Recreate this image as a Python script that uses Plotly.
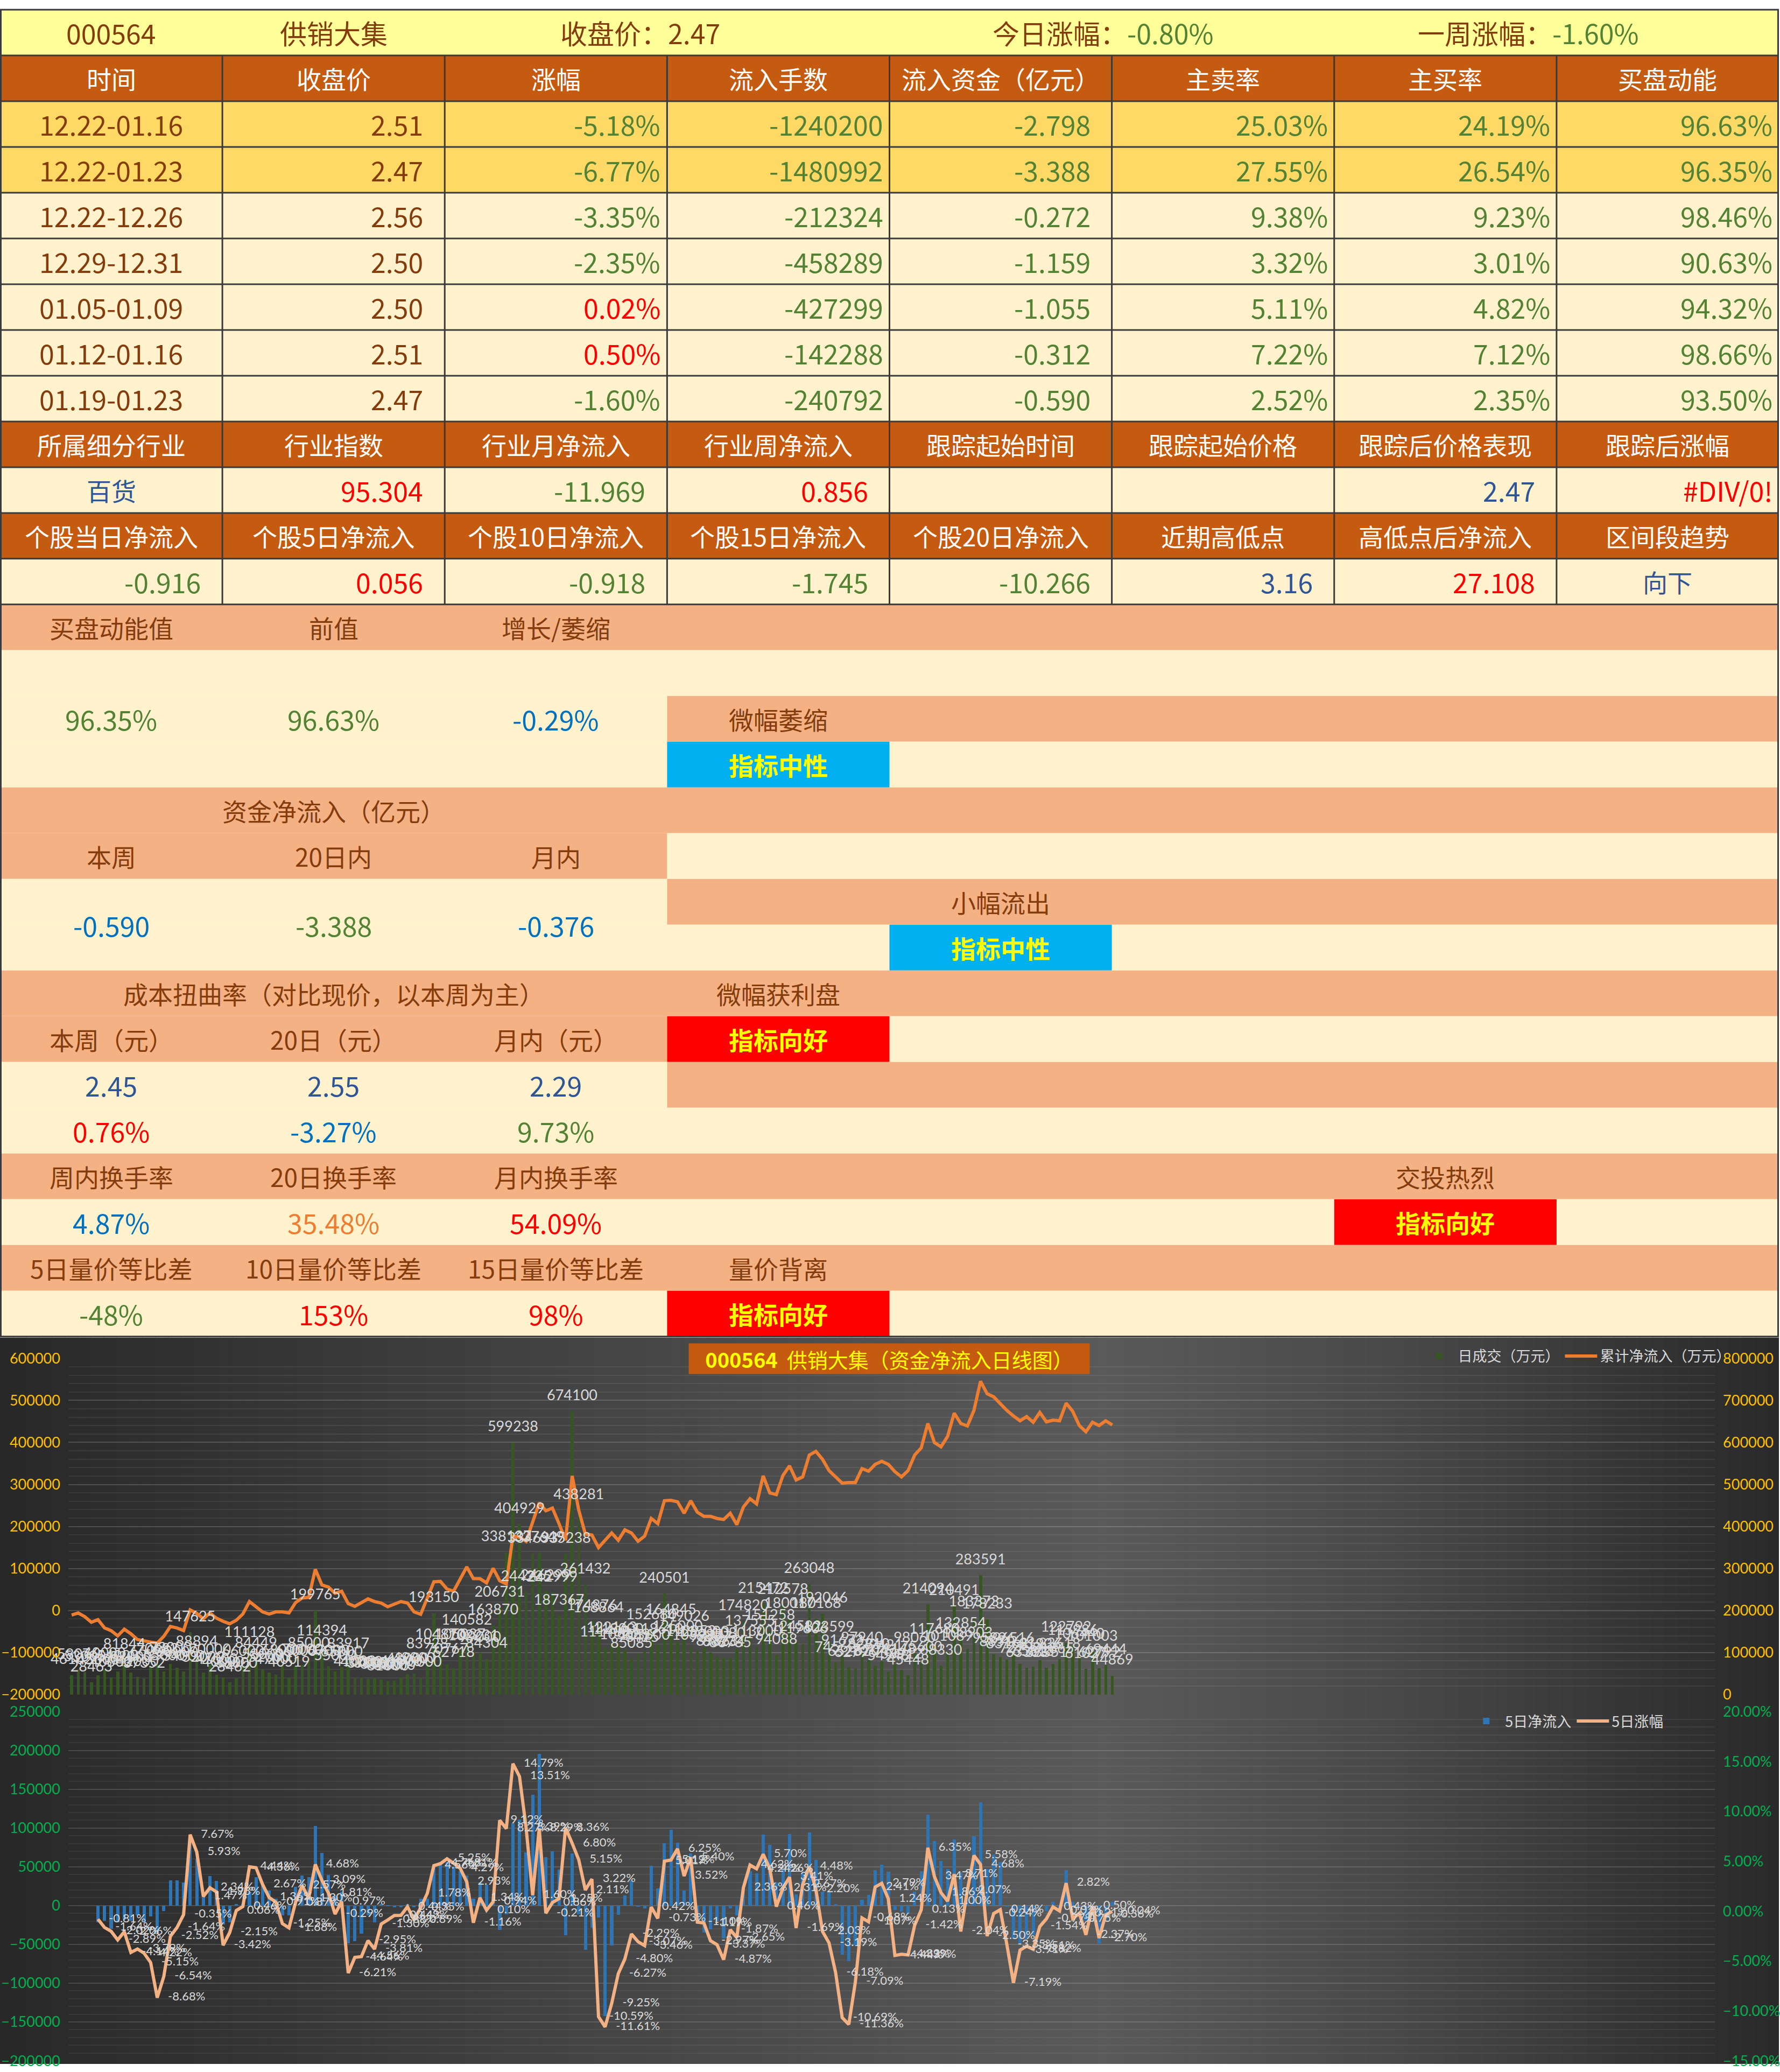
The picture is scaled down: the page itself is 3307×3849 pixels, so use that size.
# -*- coding: utf-8 -*-
import plotly.graph_objects as go

W, H = 3307, 3849
TABLE_BOTTOM = 2486
ROW_H = TABLE_BOTTOM / 29
COL_W = W / 8
CJK = "Noto Sans CJK SC"
LAT = "Lato"

BROWN = "#843C0C"
GREEN = "#548235"
RED = "#FF0000"
BLUE = "#2F5597"
LBLUE = "#0070C0"
ORANGE = "#ED7D31"
YELLOW = "#FFFF00"
SALMON = "#F4B183"
LIGHT = "#FFF2CC"
HEAD = "#C55A11"

# ---------------- table data ----------------
stock_code = "000564"
stock_name = "供销大集"
close_price = "2.47"
day_change = "-0.80%"
week_change = "-1.60%"

week_header = ["时间", "收盘价", "涨幅", "流入手数", "流入资金（亿元）", "主卖率", "主买率", "买盘动能"]
week_periods = ["12.22-01.16", "12.22-01.23", "12.22-12.26", "12.29-12.31", "01.05-01.09", "01.12-01.16", "01.19-01.23"]
week_close = ["2.51", "2.47", "2.56", "2.50", "2.50", "2.51", "2.47"]
week_pct = ["-5.18%", "-6.77%", "-3.35%", "-2.35%", "0.02%", "0.50%", "-1.60%"]
week_lots = ["-1240200", "-1480992", "-212324", "-458289", "-427299", "-142288", "-240792"]
week_money = ["-2.798", "-3.388", "-0.272", "-1.159", "-1.055", "-0.312", "-0.590"]
week_sell = ["25.03%", "27.55%", "9.38%", "3.32%", "5.11%", "7.22%", "2.52%"]
week_buy = ["24.19%", "26.54%", "9.23%", "3.01%", "4.82%", "7.12%", "2.35%"]
week_power = ["96.63%", "96.35%", "98.46%", "90.63%", "94.32%", "98.66%", "93.50%"]

industry_header = ["所属细分行业", "行业指数", "行业月净流入", "行业周净流入", "跟踪起始时间", "跟踪起始价格", "跟踪后价格表现", "跟踪后涨幅"]
industry_row = ["百货", "95.304", "-11.969", "0.856", "", "", "2.47", "#DIV/0!"]
industry_colors = [BLUE, RED, GREEN, RED, BROWN, BROWN, BLUE, RED]

flow_header = ["个股当日净流入", "个股5日净流入", "个股10日净流入", "个股15日净流入", "个股20日净流入", "近期高低点", "高低点后净流入", "区间段趋势"]
flow_row = ["-0.916", "0.056", "-0.918", "-1.745", "-10.266", "3.16", "27.108", "向下"]
flow_colors = [GREEN, RED, GREEN, GREEN, GREEN, BLUE, RED, BLUE]

power_labels = ["买盘动能值", "前值", "增长/萎缩"]
power_values = ["96.35%", "96.63%", "-0.29%"]
power_colors = [GREEN, GREEN, LBLUE]
power_verdict = "微幅萎缩"

fund_title = "资金净流入（亿元）"
fund_labels = ["本周", "20日内", "月内"]
fund_values = ["-0.590", "-3.388", "-0.376"]
fund_colors = [LBLUE, GREEN, LBLUE]
fund_verdict = "小幅流出"

cost_title = "成本扭曲率（对比现价，以本周为主）"
cost_labels = ["本周（元）", "20日（元）", "月内（元）"]
cost_prices = ["2.45", "2.55", "2.29"]
cost_pcts = ["0.76%", "-3.27%", "9.73%"]
cost_pct_colors = [RED, LBLUE, GREEN]
cost_verdict = "微幅获利盘"

turn_labels = ["周内换手率", "20日换手率", "月内换手率"]
turn_values = ["4.87%", "35.48%", "54.09%"]
turn_colors = [LBLUE, ORANGE, RED]
turn_verdict = "交投热烈"

vp_labels = ["5日量价等比差", "10日量价等比差", "15日量价等比差"]
vp_values = ["-48%", "153%", "98%"]
vp_colors = [GREEN, RED, RED]
vp_verdict = "量价背离"

# ---------------- chart data ----------------
daily_turnover = [
    46102, 58076, 53000, 28463, 45000, 60000, 40000, 54000, 81844, 52000,
    42000, 37352, 66000, 70683, 55000, 73000, 63000, 54000, 147625, 88894,
    52000, 70000, 47000, 40000, 28462, 38000, 66000, 111128, 84449, 58000,
    52000, 47000, 68000, 40519, 66000, 70000, 85000, 199765, 114394, 67000,
    55000, 65000, 83917, 41000, 40000, 37000, 38000, 35000, 31000, 33000,
    41000, 48000, 49000, 40000, 83928, 193150, 104870, 70767, 62718, 105037,
    140582, 102231, 99000, 84304, 163870, 206731, 338137, 599238, 404929, 244225,
    334693, 337649, 246299, 242999, 187367, 335238, 674100, 438281, 261432, 174876,
    168864, 111409, 122163, 118000, 105689, 85085, 98425, 103600, 152680, 118610,
    240501, 164845, 125000, 149026, 112953, 103985, 112000, 98777, 89863, 88234,
    86735, 108017, 174820, 137555, 113000, 215472, 151258, 94088, 212578, 180017,
    124582, 119606, 263048, 180168, 192046, 123599, 74563, 91672, 65282, 62796,
    97940, 82810, 67047, 79421, 54948, 71148, 58912, 45448, 98060, 75600,
    214094, 117680, 68330, 101089, 210491, 132854, 108903, 183373, 283591, 178233,
    95896, 88516, 83162, 96516, 72790, 63303, 65813, 81936, 63351, 71865,
    83618, 122792, 115986, 106440, 61027, 101003, 62792, 69444, 44869,
]

cum_inflow = [
    -10750, -5800, -14700, -28000, -21600, -41400, -47800, -60200, -44400, -55300,
    -69100, -72600, -75000, -77500, -61200, -37900, -41400, -47800, 1600, -6800,
    -19600, -5800, -18200, -25600, -31500, -23100, -8300, 21400, 9000, -3300,
    -8300, -3300, -3300, -5800, 18900, 29800, 31300, 98000, 60900, 56000,
    41200, 46100, 16400, 10000, 18900, 27800, 21400, 17900, 9000, 14900,
    21400, 17900, -3300, -9000, 31300, 68400, 69300, 51100, 46100, 75800,
    103900, 75800, 75800, 65900, 100500, 70800, 63400, 177100, 174600, 164800,
    211700, 256200, 237400, 243900, 206800, 167200, 320500, 238900, 182000, 179600,
    149900, 167200, 184500, 167200, 191900, 184500, 164800, 177100, 219100, 206800,
    261200, 262200, 258700, 231500, 261200, 234000, 224100, 224100, 219100, 216700,
    231500, 204300, 246300, 266100, 253800, 320500, 280000, 276000, 321500, 344200,
    310600, 318000, 369900, 378800, 360000, 332900, 318000, 303200, 304700, 304700,
    337800, 331400, 347700, 355100, 347700, 330400, 318000, 332900, 369900, 387200,
    445100, 399600, 389700, 414400, 469800, 445100, 439100, 476200, 545500, 515800,
    508400, 491100, 476200, 462900, 451500, 461400, 448000, 471300, 449000, 453000,
    451500, 493500, 473800, 440100, 425300, 448000, 440100, 451500, 441600,
]

five_day_inflow = [
    -21100, -19600, -29800, -21100, -18200, -19600, -12400, -21100, -13800, -34200,
    -6500, 32800, 32800, 29900, 85200, 60400, 12400, 38000, 32200, -24000,
    -21100, 2200, 2200, 18000, 37100, 27000, 19700, 9500, -12400, -12400,
    24600, 39200, 37100, 102600, 68300, 40000, 13000, 18200, -48700, -45800,
    -35600, -12400, -21100, 2200, 700, -2200, -2200, 2200, -2200, 9500,
    9500, 50000, 56100, 56100, 50800, 44400, 39200, 9500, 29900, 27000,
    12400, -31300, -10900, 106400, 111400, 69200, 143400, 195800, 62500, 70000,
    46500, -37700, 67700, -10900, -56900, -28400, -15300, -141900, -51100, -11500,
    13000, 32800, -1300, -3600, 51700, 22600, 80800, 98300, 81700, 19400,
    67700, -23100, -34800, -30700, -20200, -42000, -3600, -12400, 22600, 44400,
    41500, 91600, 78800, 30000, 47300, 92500, 15000, 41500, 94800, 59000,
    18200, 18200, 2200, -62700, -71400, -51100, 8000, 13800, 45900, 52600,
    43800, -5700, -7400, -10300, 18200, 44400, 117200, 83700, 57500, 47300,
    85200, 43000, 9500, 89500, 133200, 47300, 66200, 56100, -800, -42900,
    -48700, -42900, -37100, -1300, -6500, 5100, -8000, 45900, 5100, -800,
    -19600, -1300, -48100, -19600, 5100,
]

five_day_pct = [
    -0.81, -1.64, -2.02, -2.89, -2.06, -4.14, -3.79, -4.22, -5.15, -8.68,
    -6.54, -2.52, -1.64, -0.35, 7.67, 5.93, 1.47, 2.34, 1.93, -3.42,
    -2.15, 0.06, 0.46, 4.44, 4.36, 2.67, 1.36, 0.91, -1.25, -1.68,
    0.87, 2.57, 1.30, 4.68, 3.09, 1.81, -0.29, 0.97, -6.21, -4.64,
    -4.56, -2.95, -3.81, -1.30, -0.88, -0.44, -0.43, 0.44, -0.89, 0.35,
    1.78, 4.56, 4.76, 5.25, 4.81, 4.29, 2.93, -1.16, 1.34, 0.10,
    0.94, 9.12, 8.27, 14.79, 13.51, 8.39, 1.60, 8.29, -0.21, 0.86,
    1.25, 8.36, 6.80, 5.15, 2.11, 3.22, -10.59, -11.61, -9.25, -6.27,
    -4.80, -2.29, -3.07, -3.46, 0.42, -0.73, 5.01, 5.12, 6.25, 3.52,
    5.40, -1.10, -1.19, -2.97, -3.37, -4.87, -1.87, -2.65, 2.36, 4.62,
    4.24, 5.70, 4.26, 0.46, 2.31, 3.41, -1.69, 2.67, 4.48, 2.20,
    -2.03, -3.19, -6.18, -10.69, -11.36, -7.09, -0.68, -1.07, 2.41, 2.79,
    1.24, -4.44, -4.32, -4.39, -1.42, 0.13, 6.35, 3.47, 1.86, 1.00,
    3.71, -2.04, 2.07, 5.58, 4.68, -2.50, -0.24, 0.14, -3.35, -7.19,
    -3.91, -3.51, -3.82, -1.54, -0.77, 0.43, 0.02, 2.82, -0.75, -0.21,
    -2.37, 0.50, -2.70, -0.36, -0.04,
]

day_idx = list(range(len(daily_turnover)))
five_idx = [i + 4 for i in range(len(five_day_inflow))]

# ---------------- helpers ----------------
shapes = []
annotations = []


def px(x):
    return x / W


def py(y):
    return 1 - y / H


def fill(row, c0, c1, color):
    shapes.append(dict(type="rect", xref="paper", yref="paper",
                       x0=px(c0 * COL_W), x1=px(c1 * COL_W),
                       y0=py((row + 1) * ROW_H), y1=py(row * ROW_H),
                       fillcolor=color, line=dict(width=0), layer="below"))


def add_text(x, y, text, color, size=46, anchor="center", bold=False):
    if bold:
        text = "<b>" + text + "</b>"
    annotations.append(dict(x=px(x), y=py(y), xref="paper", yref="paper", text=text,
                            showarrow=False, xanchor=anchor, yanchor="middle",
                            font=dict(family=CJK, size=size, color=color)))


def cell(row, col, text, color, align="center", size=46, bold=False):
    yc = (row + 0.5) * ROW_H
    if align == "center":
        add_text((col + 0.5) * COL_W, yc, text, color, size, "center", bold)
    else:
        pad = 38 if ("." in text and not text.endswith("%")) else 10
        add_text((col + 1) * COL_W - pad, yc, text, color, size, "right", bold)


NUM = 50  # digits in the sheet are tall; a bit larger than the CJK text

# ---------------- table ----------------
fill(0, 0, 8, "#FFFF99")
add_text(0.5 * COL_W, 0.5 * ROW_H, stock_code, BROWN, 50)
add_text(1.5 * COL_W, 0.5 * ROW_H, stock_name, BROWN, 50)
add_text(1190, 0.5 * ROW_H, "收盘价：" + close_price, BROWN, 50)
add_text(2051, 0.5 * ROW_H, "今日涨幅：<span style='color:%s'>%s</span>" % (GREEN, day_change), BROWN, 50)
add_text(2841, 0.5 * ROW_H, "一周涨幅：<span style='color:%s'>%s</span>" % (GREEN, week_change), BROWN, 50)

for r, header in ((1, week_header), (9, industry_header), (11, flow_header)):
    fill(r, 0, 8, HEAD)
    for c, t in enumerate(header):
        cell(r, c, t, "#FFFFFF")

for k in range(len(week_periods)):
    r = 2 + k
    fill(r, 0, 8, "#FFD966" if k < 2 else LIGHT)
    cell(r, 0, week_periods[k], BROWN, size=NUM)
    cell(r, 1, week_close[k], BROWN, "right", NUM)
    cell(r, 2, week_pct[k], GREEN if week_pct[k].startswith("-") else RED, "right", NUM)
    cell(r, 3, week_lots[k], GREEN, "right", NUM)
    cell(r, 4, week_money[k], GREEN, "right", NUM)
    cell(r, 5, week_sell[k], GREEN, "right", NUM)
    cell(r, 6, week_buy[k], GREEN, "right", NUM)
    cell(r, 7, week_power[k], GREEN, "right", NUM)

fill(10, 0, 8, LIGHT)
for c, t in enumerate(industry_row):
    if t:
        if c == 0:
            cell(10, c, t, industry_colors[c])
        else:
            cell(10, c, t, industry_colors[c], "right", NUM)
fill(12, 0, 8, LIGHT)
for c, t in enumerate(flow_row):
    if c == 7:
        cell(12, c, t, flow_colors[c])
    else:
        cell(12, c, t, flow_colors[c], "right", NUM)

# lower block fills
for r, c0, c1, col in [
    (13, 0, 8, SALMON), (14, 0, 8, LIGHT), (15, 0, 3, LIGHT), (15, 3, 8, SALMON),
    (16, 0, 8, LIGHT), (16, 3, 4, "#00B0F0"), (17, 0, 8, SALMON),
    (18, 0, 3, SALMON), (18, 3, 8, LIGHT), (19, 0, 3, LIGHT), (19, 3, 8, SALMON),
    (20, 0, 8, LIGHT), (20, 4, 5, "#00B0F0"), (21, 0, 8, SALMON),
    (22, 0, 3, SALMON), (22, 3, 8, LIGHT), (22, 3, 4, RED),
    (23, 0, 3, LIGHT), (23, 3, 8, SALMON), (24, 0, 8, LIGHT), (25, 0, 8, SALMON),
    (26, 0, 8, LIGHT), (26, 6, 7, RED), (27, 0, 8, SALMON),
    (28, 0, 8, LIGHT), (28, 3, 4, RED),
]:
    fill(r, c0, c1, col)

for c in range(3):
    cell(13, c, power_labels[c], BROWN)
    cell(15, c, power_values[c], power_colors[c], size=NUM)
    cell(18, c, fund_labels[c], BROWN)
    cell(19.5, c, fund_values[c], fund_colors[c], size=NUM)
    cell(22, c, cost_labels[c], BROWN)
    cell(23, c, cost_prices[c], BLUE, size=NUM)
    cell(24, c, cost_pcts[c], cost_pct_colors[c], size=NUM)
    cell(25, c, turn_labels[c], BROWN)
    cell(26, c, turn_values[c], turn_colors[c], size=NUM)
    cell(27, c, vp_labels[c], BROWN)
    cell(28, c, vp_values[c], vp_colors[c], size=NUM)
cell(15, 3, power_verdict, BROWN)
cell(16, 3, "指标中性", YELLOW, bold=True)
cell(17, 1, fund_title, BROWN)
cell(19, 4, fund_verdict, BROWN)
cell(20, 4, "指标中性", YELLOW, bold=True)
cell(21, 1, cost_title, BROWN)
cell(21, 3, cost_verdict, BROWN)
cell(22, 3, "指标向好", YELLOW, bold=True)
cell(25, 6, turn_verdict, BROWN)
cell(26, 6, "指标向好", YELLOW, bold=True)
cell(27, 3, vp_verdict, BROWN)
cell(28, 3, "指标向好", YELLOW, bold=True)

# grid lines of the upper table
border = dict(color="#3A3A3A", width=3)
for r in range(0, 14):
    shapes.append(dict(type="line", xref="paper", yref="paper", x0=0, x1=1,
                       y0=py(r * ROW_H), y1=py(r * ROW_H), line=border))
for c in range(1, 8):
    shapes.append(dict(type="line", xref="paper", yref="paper", x0=px(c * COL_W), x1=px(c * COL_W),
                       y0=py(ROW_H), y1=py(13 * ROW_H), line=border))
for xe in (1.5, W - 1.5):
    shapes.append(dict(type="line", xref="paper", yref="paper", x0=px(xe), x1=px(xe),
                       y0=py(0), y1=py(TABLE_BOTTOM), line=border))
shapes.append(dict(type="line", xref="paper", yref="paper", x0=0, x1=1,
                   y0=py(TABLE_BOTTOM), y1=py(TABLE_BOTTOM), line=border))

# dark chart background (horizontal gradient)
stops = [(0, 40), (1000, 66), (2050, 90), (2550, 74), (3307, 42)]


def gray(x):
    for (x0, g0), (x1, g1) in zip(stops[:-1], stops[1:]):
        if x0 <= x <= x1:
            return g0 + (g1 - g0) * (x - x0) / (x1 - x0)
    return stops[-1][1]


step = 24
x = 0
while x < W:
    g = int(round(gray(x + step / 2)))
    shapes.append(dict(type="rect", xref="paper", yref="paper", x0=px(x), x1=px(min(W, x + step + 1)),
                       y0=0, y1=py(TABLE_BOTTOM + 2), fillcolor="rgb(%d,%d,%d)" % (g, g, g),
                       line=dict(width=0), layer="below"))
    x += step

# ---------------- charts ----------------
X_DOMAIN = [px(127), px(3188)]
N_SLOTS = 250
TOP_DOMAIN = [py(3157), py(2527)]
BOT_DOMAIN = [py(3843), py(3189)]
slot_px = (3188 - 127) / N_SLOTS
label_lift = 14 * 800000 / (3157 - 2527)
label_shift = 20 / slot_px

fig = go.Figure()
fig.add_trace(go.Bar(x=day_idx, y=daily_turnover, name="日成交（万元）", width=0.45,
                     marker=dict(color="#375623", line=dict(width=0)),
                     xaxis="x", yaxis="y", legend="legend"))
fig.add_trace(go.Scatter(x=day_idx, y=cum_inflow, name="累计净流入（万元）", mode="lines",
                         line=dict(color="#ED7D31", width=6), xaxis="x", yaxis="y2", legend="legend"))
fig.add_trace(go.Scatter(x=day_idx, y=[v + label_lift for v in daily_turnover], mode="text",
                         text=[str(v) for v in daily_turnover], textposition="top center",
                         textfont=dict(family=LAT, size=27, color="#D9D9D9"),
                         xaxis="x", yaxis="y5", showlegend=False, cliponaxis=False, hoverinfo="skip"))

fig.add_trace(go.Bar(x=five_idx, y=five_day_inflow, name="5日净流入", width=0.5,
                     marker=dict(color="#2E75B6", line=dict(width=0)),
                     xaxis="x2", yaxis="y3", legend="legend2"))
fig.add_trace(go.Scatter(x=five_idx, y=five_day_pct, name="5日涨幅", mode="lines",
                         line=dict(color="#F4B183", width=6), xaxis="x2", yaxis="y4", legend="legend2"))
fig.add_trace(go.Scatter(x=[i + label_shift for i in five_idx], y=five_day_pct, mode="text",
                         text=["%.2f%%" % p for p in five_day_pct], textposition="middle right",
                         textfont=dict(family=LAT, size=22, color="#D9D9D9"),
                         xaxis="x2", yaxis="y4", showlegend=False, cliponaxis=False, hoverinfo="skip"))

axis_common = dict(showline=False, zeroline=False, ticks="", ticklabelstandoff=14)
xcommon = dict(domain=X_DOMAIN, range=[-0.5, N_SLOTS - 0.5], showticklabels=False,
               showgrid=False, zeroline=False, showline=False, fixedrange=True)

annotations.append(dict(x=px(1653), y=py(2528), xref="paper", yref="paper", showarrow=False,
                        text="<b>000564</b>  供销大集（资金净流入日线图）", width=742, height=54,
                        bgcolor=HEAD, align="center",
                        font=dict(family=CJK, size=38, color=YELLOW)))

fig.update_layout(
    width=W, height=H, margin=dict(l=0, r=0, t=0, b=0),
    paper_bgcolor="white", plot_bgcolor="rgba(0,0,0,0)",
    bargap=0, barmode="overlay",
    xaxis=dict(anchor="y", **xcommon),
    xaxis2=dict(anchor="y3", **xcommon),
    yaxis=dict(domain=TOP_DOMAIN, anchor="x", side="right", range=[0, 800000], dtick=100000,
               tickformat="d", showgrid=True, gridcolor="rgba(255,255,255,0.17)", gridwidth=2,
               minor=dict(dtick=20000, showgrid=True, gridcolor="rgba(255,255,255,0.07)", gridwidth=1.5),
               tickfont=dict(family=LAT, size=27, color="#FFC000"), **axis_common),
    yaxis2=dict(overlaying="y", anchor="x", side="left", range=[-200000, 600000], dtick=100000,
                tickformat="d", showgrid=False,
                tickfont=dict(family=LAT, size=27, color="#FFC000"), **axis_common),
    yaxis5=dict(overlaying="y", anchor="x", range=[0, 800000], visible=False),
    yaxis3=dict(domain=BOT_DOMAIN, anchor="x2", side="left", range=[-200000, 250000], dtick=50000,
                tickformat="d", showgrid=True, gridcolor="rgba(255,255,255,0.15)", gridwidth=2,
                minor=dict(dtick=10000, showgrid=True, gridcolor="rgba(255,255,255,0.06)", gridwidth=1.5),
                tickfont=dict(family=LAT, size=27, color="#00B050"), **axis_common),
    yaxis4=dict(overlaying="y3", anchor="x2", side="right", range=[-15, 20], dtick=5,
                tickformat=".2f", ticksuffix="%", showgrid=False,
                tickfont=dict(family=LAT, size=27, color="#00B050"), **axis_common),
    legend=dict(orientation="h", x=px(2640), y=py(2523), xanchor="left", yanchor="middle",
                bgcolor="rgba(0,0,0,0)", itemwidth=60, traceorder="normal",
                font=dict(family=CJK, size=27, color="#D9D9D9")),
    legend2=dict(orientation="h", x=px(2728), y=py(3207), xanchor="left", yanchor="middle",
                 bgcolor="rgba(0,0,0,0)", itemwidth=60, traceorder="normal",
                 font=dict(family=CJK, size=27, color="#D9D9D9")),
    shapes=shapes, annotations=annotations,
    showlegend=True,
)

# the page's default body margin would push the sheet off its edges
fig.write_html("out.html", config={"displayModeBar": False},
               post_script="document.body.style.margin='0px';")
